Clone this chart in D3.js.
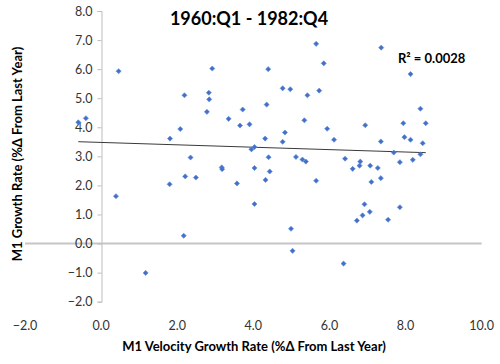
<!DOCTYPE html>
<html>
<head>
<meta charset="utf-8">
<script src="https://cdn.jsdelivr.net/npm/d3@7"></script>
<style>
    body { margin: 0; background: #fff; }
    text { font-family: Lato, "Liberation Sans", sans-serif; }
</style>
</head>
<body>
<svg id="chart" width="500" height="364"></svg>
<script>
// Velocity growth (x) and M1 growth (y), % change from last year
const velocity = [
    -0.60, -0.40, 0.46, 0.39, 1.17, 1.81, 1.80, 2.08, 2.19, 2.17,
    2.21, 2.35, 2.49, 2.78, 2.83, 2.84, 2.92, 3.17, 3.18, 3.35,
    3.57, 3.65, 3.72, 3.90, 3.95, 4.03, 4.03, 4.03, 4.31, 4.32,
    4.35, 4.39, 4.40, 4.43, 4.77, 4.77, 4.83, 4.97, 4.99, 5.03,
    5.12, 5.29, 5.34, 5.38, 5.42, 5.65, 5.65, 5.73, 5.85, 5.94,
    6.12, 6.37, 6.41, 6.61, 6.72, 6.79, 6.81, 6.87, 6.92, 6.94,
    7.06, 7.07, 7.10, 7.27, 7.35, 7.35, 7.36, 7.54, 7.69, 7.85,
    7.85, 7.94, 7.97, 8.13, 8.13, 8.19, 8.39, 8.39, 8.45, 8.53
];
const m1Growth = [
    4.17, 4.31, 5.93, 1.63, -1.01, 3.61, 2.04, 3.94, 5.10, 0.27,
    2.31, 2.96, 2.27, 4.53, 5.19, 4.96, 6.02, 2.62, 2.56, 4.29,
    2.07, 4.06, 4.61, 4.10, 3.24, 3.32, 2.60, 1.36, 3.61, 2.19,
    4.78, 6.00, 2.97, 2.48, 5.34, 3.50, 3.82, 5.31, 0.51, -0.25,
    2.98, 2.89, 4.24, 2.82, 5.10, 6.87, 2.16, 5.26, 6.20, 3.95,
    3.57, -0.69, 2.92, 2.57, 0.79, 2.68, 2.82, 0.97, 1.35, 4.07,
    1.09, 2.68, 2.12, 2.60, 2.25, 3.51, 6.74, 0.82, 3.13, 1.25,
    2.80, 4.14, 3.66, 3.57, 5.83, 2.88, 4.64, 3.07, 3.45, 4.14
];
const xTicks = [-2, 0, 2, 4, 6, 8, 10];
const yTicks = [-2, -1, 0, 1, 2, 3, 4, 5, 6, 7, 8];

// linear trend as shown on the chart
const trend = { slope: -0.0413, intercept: 3.479, r2: '0.0028' };

const titleText = '1960:Q1 - 1982:Q4';
const xTitle = 'M1 Velocity Growth Rate (%\u0394 From Last Year)';
const yTitle = 'M1 Growth Rate (%\u0394 From Last Year)';

const svg = d3.select('#chart');
const points = velocity.map((v, i) => ({ x: v, y: m1Growth[i] }));

const x = d3.scaleLinear().domain([-2, 10]).range([25, 481.7]);
const y = d3.scaleLinear().domain([-2, 8]).range([301.7, 11]);
const fmt = d3.format('.1f');

// horizontal axis line sits at y = 0
svg.append('line')
    .attr('x1', x(-2)).attr('x2', x(10))
    .attr('y1', y(0)).attr('y2', y(0))
    .attr('stroke', '#c6c6c6').attr('stroke-width', 2);

// vertical axis crosses at x = 0
const yAxis = d3.axisLeft(y).tickValues(yTicks).tickFormat(fmt).tickSize(4).tickPadding(5);
const yG = svg.append('g')
    .attr('transform', `translate(${Math.round(x(0)) + 0.5},0)`)
    .call(yAxis);
yG.select('.domain').attr('stroke', '#bdbdbd');
yG.selectAll('.tick line').attr('stroke', '#bdbdbd');
yG.selectAll('.tick text')
    .attr('fill', '#333')
    .style('font-size', '12.5px')
    .style('font-family', 'Lato, sans-serif');

// x tick labels are placed low, under the plot
svg.append('g').selectAll('text')
    .data(xTicks)
    .join('text')
    .attr('x', d => x(d))
    .attr('y', 329.5)
    .attr('text-anchor', 'middle')
    .attr('fill', '#333')
    .style('font-size', '12.5px')
    .text(d => fmt(d));

// trendline over the data range
const xExt = d3.extent(velocity);
svg.append('line')
    .attr('x1', x(xExt[0])).attr('y1', y(trend.intercept + trend.slope * xExt[0]))
    .attr('x2', x(xExt[1])).attr('y2', y(trend.intercept + trend.slope * xExt[1]))
    .attr('stroke', '#3a3a3a').attr('stroke-width', 1);

// diamond markers
svg.append('g').selectAll('path')
    .data(points)
    .join('path')
    .attr('d', d3.symbol(d3.symbolSquare, 13))
    .attr('transform', d => `translate(${x(d.x)},${y(d.y)}) rotate(45)`)
    .attr('fill', '#4a6cc8')
    .attr('stroke', '#4f93d6')
    .attr('stroke-width', 0.6);

svg.append('text')
    .attr('x', 249).attr('y', 25)
    .attr('text-anchor', 'middle')
    .style('font-size', '18px').style('font-weight', 'bold')
    .attr('fill', '#000')
    .text(titleText);

svg.append('text')
    .attr('x', 398).attr('y', 62.5)
    .style('font-size', '13px').style('font-weight', 'bold')
    .attr('fill', '#000')
    .text(`R\u00b2 = ${trend.r2}`);

svg.append('text')
    .attr('x', 254).attr('y', 351)
    .attr('text-anchor', 'middle')
    .style('font-size', '13px').style('font-weight', 'bold')
    .attr('fill', '#000')
    .text(xTitle);

svg.append('text')
    .attr('transform', 'translate(21.5,154) rotate(-90)')
    .attr('text-anchor', 'middle')
    .style('font-size', '13px').style('font-weight', 'bold')
    .attr('fill', '#000')
    .text(yTitle);
</script>
</body>
</html>
